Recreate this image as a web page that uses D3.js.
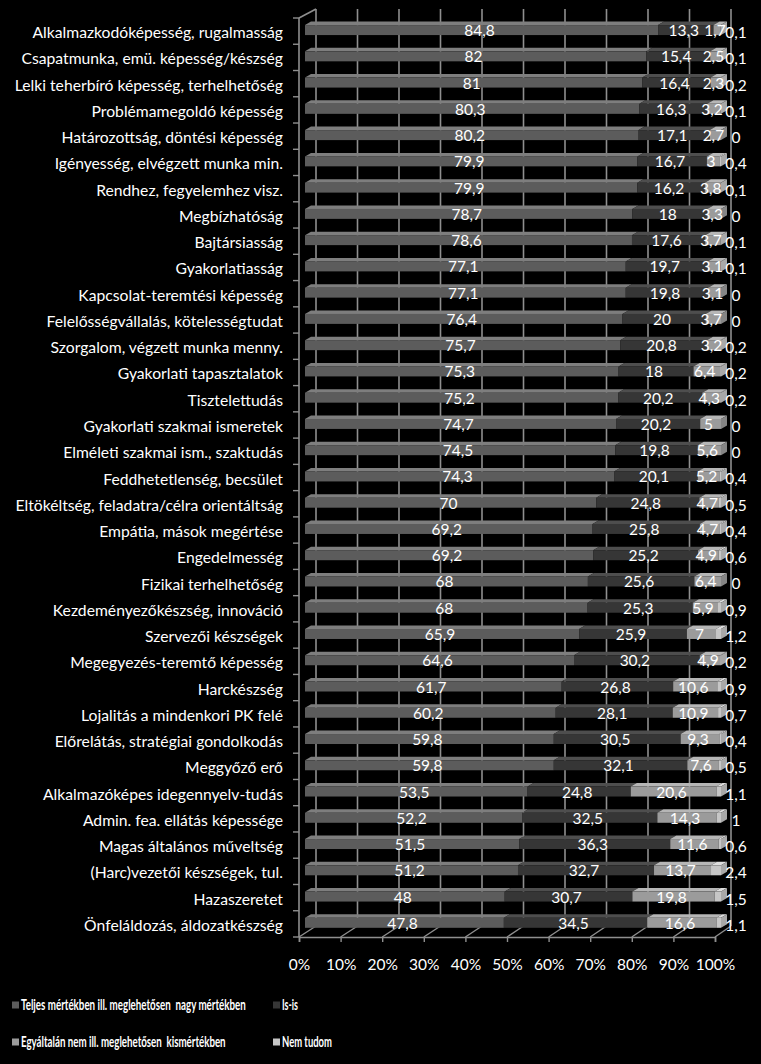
<!DOCTYPE html>
<html><head><meta charset="utf-8">
<script src="https://cdn.jsdelivr.net/npm/d3@7"></script>
<style>
html,body{margin:0;padding:0;background:#000;}
svg{display:block;}
text{font-family:Lato,"Open Sans",sans-serif;fill:#fff;}
</style></head><body>
<svg id="c" width="761" height="1064"></svg>
<script>
const categories = [
"Alkalmazkodóképesség, rugalmasság","Csapatmunka, emü. képesség/készség","Lelki teherbíró képesség, terhelhetőség",
"Problémamegoldó képesség","Határozottság, döntési képesség","Igényesség, elvégzett munka min.",
"Rendhez, fegyelemhez visz.","Megbízhatóság","Bajtársiasság","Gyakorlatiasság","Kapcsolat-teremtési képesség",
"Felelősségvállalás, kötelességtudat","Szorgalom, végzett munka menny.","Gyakorlati tapasztalatok","Tisztelettudás",
"Gyakorlati szakmai ismeretek","Elméleti szakmai ism., szaktudás","Feddhetetlenség, becsület",
"Eltökéltség, feladatra/célra orientáltság","Empátia, mások megértése","Engedelmesség","Fizikai terhelhetőség",
"Kezdeményezőkészség, innováció","Szervezői készségek","Megegyezés-teremtő képesség","Harckészség",
"Lojalitás a mindenkori PK felé","Előrelátás, stratégiai gondolkodás","Meggyőző erő","Alkalmazóképes idegennyelv-tudás",
"Admin. fea. ellátás képessége","Magas általános műveltség","(Harc)vezetői készségek, tul.","Hazaszeretet",
"Önfeláldozás, áldozatkészség"];
const teljes = [84.8,82,81,80.3,80.2,79.9,79.9,78.7,78.6,77.1,77.1,76.4,75.7,75.3,75.2,74.7,74.5,74.3,70,69.2,69.2,68,68,65.9,64.6,61.7,60.2,59.8,59.8,53.5,52.2,51.5,51.2,48,47.8];
const isis = [13.3,15.4,16.4,16.3,17.1,16.7,16.2,18,17.6,19.7,19.8,20,20.8,18,20.2,20.2,19.8,20.1,24.8,25.8,25.2,25.6,25.3,25.9,30.2,26.8,28.1,30.5,32.1,24.8,32.5,36.3,32.7,30.7,34.5];
const egyaltalan = [1.7,2.5,2.3,3.2,2.7,3,3.8,3.3,3.7,3.1,3.1,3.7,3.2,6.4,4.3,5,5.6,5.2,4.7,4.7,4.9,6.4,5.9,7,4.9,10.6,10.9,9.3,7.6,20.6,14.3,11.6,13.7,19.8,16.6];
const nemtudom = [0.1,0.1,0.2,0.1,0,0.4,0.1,0,0.1,0.1,0,0,0.2,0.2,0.2,0,0,0.4,0.5,0.4,0.6,0,0.9,1.2,0.2,0.9,0.7,0.4,0.5,1.1,1,0.6,2.4,1.5,1.1];
const seriesNames = ["Teljes mértékben ill. meglehetősen  nagy mértékben","Is-is","Egyáltalán nem ill. meglehetősen  kismértékben","Nem tudom"];
const tickValues = [0,0.1,0.2,0.3,0.4,0.5,0.6,0.7,0.8,0.9,1];

const series = [teljes, isis, egyaltalan, nemtudom];
const frontCol = ["#5c5c5c","#363636","#9b9b9b","#c6c6c6"];
const topCol   = ["#7e7e7e","#4e4e4e","#b6b6b6","#dedede"];
const sideCol  = ["#4a4a4a","#2a2a2a","#858585","#a8a8a8"];
const lineCol = "#8f8f8f";

const svg = d3.select("#c");
const DX = 17, DY = -9;
const frontTop = 18, frontBot = 937;
const xFront = d3.scaleLinear().domain([0,1]).range([299,715]);
const xBack  = d3.scaleLinear().domain([0,1]).range([316,731]);
const xBar   = d3.scaleLinear().domain([0,1]).range([305,721]);
const y = d3.scaleBand().domain(categories).range([frontTop, frontBot]).paddingInner(0).paddingOuter(0);
const bw = y.bandwidth();
const bdx = 6, bdy = -3.5;

const g = svg.append("g");
g.selectAll("line.grid").data(tickValues).join("line")
 .attr("x1", d=>xBack(d)).attr("x2", d=>xBack(d))
 .attr("y1", frontTop+DY).attr("y2", frontBot-11)
 .attr("stroke", lineCol).attr("stroke-width",1.6);
g.selectAll("line.floor").data(tickValues).join("line")
 .attr("x1", d=>xFront(d)).attr("x2", d=>xBack(d))
 .attr("y1", frontBot).attr("y2", frontBot-11)
 .attr("stroke", lineCol).attr("stroke-width",1.4);
g.append("line").attr("x1",xFront(0)).attr("x2",xFront(0)).attr("y1",frontTop).attr("y2",frontBot)
 .attr("stroke",lineCol).attr("stroke-width",1.6);
g.append("line").attr("x1",xFront(0)).attr("x2",xBack(0)).attr("y1",frontTop).attr("y2",frontTop+DY)
 .attr("stroke",lineCol).attr("stroke-width",1.6);
const bounds = d3.range(categories.length+1).map(i=>frontTop+i*bw);
g.selectAll("line.lt").data(bounds).join("line")
 .attr("x1", xFront(0)-6).attr("x2", xFront(0)).attr("y1", d=>d).attr("y2", d=>d)
 .attr("stroke", lineCol).attr("stroke-width",1.4);

const xAxis = d3.axisBottom(xFront).tickValues(tickValues).tickFormat(d3.format(".0%")).tickSize(5).tickPadding(17);
const ax = svg.append("g").attr("transform",`translate(0,${frontBot})`).call(xAxis);
ax.select(".domain").attr("stroke",lineCol).attr("stroke-width",1.6);
ax.selectAll(".tick line").attr("stroke",lineCol).attr("stroke-width",1.4);
ax.selectAll(".tick text").attr("fill","#fff").style("font-size","15.5px").style("font-family","Lato,sans-serif");

const rows = categories.map((c,i)=>{
  const vals = series.map(s=>s[i]);
  const tot = d3.sum(vals);
  let cum = 0;
  const segs = vals.map((v,k)=>{ const a=cum/tot; cum+=v; return {k, v, a, b: cum/tot}; });
  return {c, i, segs};
});
const bars = svg.append("g");
rows.forEach(r=>{
  const top = y(r.c) + bw*0.27, h = bw*0.38, bot = top + h;
  const gg = bars.append("g");
  r.segs.forEach(s=>{
    if (s.b - s.a <= 0) return;
    const x0 = xBar(s.a), x1 = xBar(s.b);
    gg.append("path").attr("d",`M${x0},${top}L${x1},${top}L${x1+bdx},${top+bdy}L${x0+bdx},${top+bdy}Z`)
      .attr("fill", topCol[s.k]);
    gg.append("rect").attr("x",x0).attr("y",top).attr("width",x1-x0).attr("height",h).attr("fill",frontCol[s.k]);
  });
  const last = r.segs.filter(s=>s.b-s.a>0).slice(-1)[0];
  const xe = xBar(1);
  gg.append("path").attr("d",`M${xe},${top}L${xe+bdx},${top+bdy}L${xe+bdx},${bot+bdy}L${xe},${bot}Z`)
    .attr("fill", sideCol[last.k]);
  r.segs.forEach(s=>{
    const cx = s.k===3 ? xBar(1)+15 : (xBar(s.a)+xBar(s.b))/2 - 2;
    const cy = (top+bot)/2 + (s.k===3 ? 2 : 0);
    gg.append("text").attr("x",cx).attr("y",cy).attr("text-anchor","middle").attr("dominant-baseline","central")
      .style("font-size","15.5px").text(String(s.v).replace(".",","));
  });
});

svg.append("g").selectAll("text").data(categories).join("text")
  .attr("x", 283).attr("y", d=>y(d)+bw/2+1).attr("text-anchor","end").attr("dominant-baseline","central")
  .style("font-size","15.7px").text(d=>d);

// legend: condensed bold text, horizontally scaled to the reference widths
const legPos = [[12,1005],[273,1005],[12,1042],[273,1042]];
const legLen = [225,16,205,50];
const lg = svg.append("g");
seriesNames.forEach((n,k)=>{
  const [lx,ly] = legPos[k];
  lg.append("rect").attr("x",lx).attr("y",ly-3.5).attr("width",7).attr("height",7).attr("fill",frontCol[k]);
  const t = lg.append("text").attr("x",0).attr("y",0).attr("dominant-baseline","central")
    .style("font-weight","bold").style("font-size","15px").style("white-space","pre").text(n);
  const w = t.node().getComputedTextLength();
  t.attr("transform",`translate(${lx+9},${ly}) scale(${legLen[k]/w},1)`);
});
</script></body></html>
